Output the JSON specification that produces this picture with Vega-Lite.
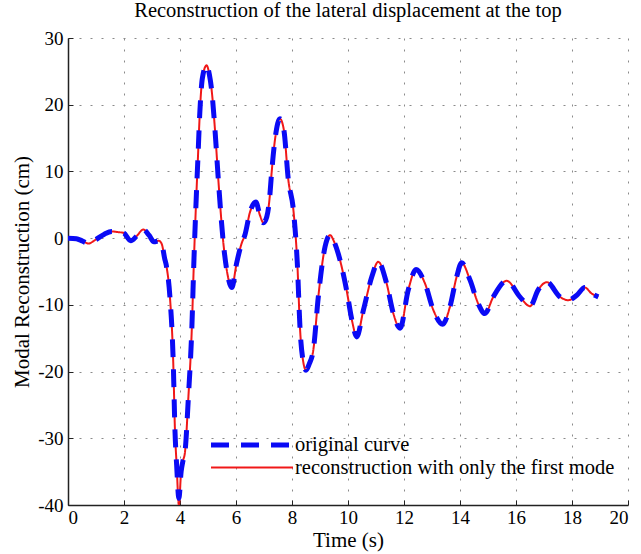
{
  "$schema": "https://vega.github.io/schema/vega-lite/v6.json",
  "width": 560,
  "height": 467,
  "autosize": {"type": "none"},
  "padding": {"left": 68, "top": 38, "right": 13, "bottom": 49},
  "background": "white",
  "config": {
    "view": {"stroke": null},
    "font": "Liberation Serif",
    "axis": {
      "domainColor": "#222222",
      "domainWidth": 1.5,
      "tickColor": "#222222",
      "tickSize": -5,
      "labelColor": "black",
      "titleColor": "black",
      "labelFont": "Liberation Serif",
      "titleFont": "Liberation Serif",
      "labelFontSize": 19,
      "titleFontSize": 21,
      "titleFontWeight": "normal",
      "grid": true,
      "gridColor": "#8a8a8a",
      "gridDash": [2, 9],
      "gridWidth": 1
    },
    "legend": {
      "labelFont": "Liberation Serif",
      "labelFontSize": 20.5,
      "labelColor": "black",
      "labelLimit": 0,
      "symbolType": "M-4,0H4",
      "symbolSize": 420,
      "labelOffset": 30,
      "rowPadding": 0
    }
  },
  "title": {
    "text": "Reconstruction of the lateral displacement at the top",
    "font": "Liberation Serif",
    "fontSize": 20.5,
    "fontWeight": "normal",
    "color": "black",
    "anchor": "middle",
    "offset": 8
  },
  "data": {
    "values": [
      {"t": 0, "orig": 0, "recon": 0}, {"t": 0.3, "orig": -0.1, "recon": -0.1}, {"t": 0.5, "orig": -0.4, "recon": -0.4}, {"t": 0.73, "orig": -0.8, "recon": -0.8},
      {"t": 1.0, "orig": -0.2, "recon": -0.2}, {"t": 1.3, "orig": 0.6, "recon": 0.6}, {"t": 1.56, "orig": 1.0, "recon": 1.0}, {"t": 1.8, "orig": 0.9, "recon": 0.9},
      {"t": 1.98, "orig": 0.8, "recon": 0.8}, {"t": 2.24, "orig": -0.4, "recon": -0.4}, {"t": 2.45, "orig": 0.3, "recon": 0.3}, {"t": 2.69, "orig": 1.3, "recon": 1.3},
      {"t": 2.9, "orig": 0.4, "recon": 0.4}, {"t": 3.07, "orig": -0.55, "recon": -0.55}, {"t": 3.25, "orig": -0.4, "recon": -0.4}, {"t": 3.35, "orig": -0.9, "recon": -0.9},
      {"t": 3.45, "orig": -3.0, "recon": -3.0}, {"t": 3.52, "orig": -4.3, "recon": -4.3}, {"t": 3.64, "orig": -8.8, "recon": -8.8}, {"t": 3.76, "orig": -18.8, "recon": -18.8},
      {"t": 3.82, "orig": -28.8, "recon": -28.8}, {"t": 3.88, "orig": -34, "recon": -34}, {"t": 3.96, "orig": -39, "recon": -40}, {"t": 4.04, "orig": -35, "recon": -35},
      {"t": 4.1, "orig": -33.5, "recon": -33.5}, {"t": 4.18, "orig": -32, "recon": -32}, {"t": 4.3, "orig": -23.8, "recon": -23.8}, {"t": 4.42, "orig": -13.8, "recon": -13.8},
      {"t": 4.5, "orig": -3, "recon": -3}, {"t": 4.57, "orig": 5, "recon": 5}, {"t": 4.64, "orig": 12, "recon": 12}, {"t": 4.71, "orig": 19, "recon": 19},
      {"t": 4.8, "orig": 24, "recon": 24}, {"t": 4.95, "orig": 25.9, "recon": 25.9}, {"t": 5.05, "orig": 24.5, "recon": 24.5}, {"t": 5.13, "orig": 22.2, "recon": 22.2},
      {"t": 5.25, "orig": 16.2, "recon": 16.2}, {"t": 5.37, "orig": 8.7, "recon": 8.7}, {"t": 5.55, "orig": -0.8, "recon": -0.8}, {"t": 5.7, "orig": -5.5, "recon": -5.5},
      {"t": 5.85, "orig": -7.4, "recon": -7.4}, {"t": 6.02, "orig": -3.8, "recon": -3.8}, {"t": 6.2, "orig": -0.8, "recon": -0.8}, {"t": 6.32, "orig": 0.5, "recon": 0.5},
      {"t": 6.5, "orig": 3.9, "recon": 3.9}, {"t": 6.71, "orig": 5.4, "recon": 5.4}, {"t": 6.85, "orig": 3.5, "recon": 3.5}, {"t": 6.98, "orig": 2.3, "recon": 2.3},
      {"t": 7.1, "orig": 3.2, "recon": 3.2}, {"t": 7.2, "orig": 6, "recon": 6}, {"t": 7.27, "orig": 9.7, "recon": 9.7}, {"t": 7.39, "orig": 14.7, "recon": 14.7},
      {"t": 7.57, "orig": 17.9, "recon": 17.9}, {"t": 7.71, "orig": 16.2, "recon": 16.2}, {"t": 7.87, "orig": 8.7, "recon": 8.7}, {"t": 8.05, "orig": 4.2, "recon": 4.2},
      {"t": 8.19, "orig": -3.8, "recon": -3.8}, {"t": 8.29, "orig": -13.8, "recon": -13.8}, {"t": 8.4, "orig": -18.5, "recon": -18.5}, {"t": 8.5, "orig": -19.8, "recon": -19.8},
      {"t": 8.62, "orig": -18.8, "recon": -18.8}, {"t": 8.76, "orig": -16.8, "recon": -16.8}, {"t": 8.94, "orig": -8.8, "recon": -8.8}, {"t": 9.18, "orig": -1.3, "recon": -1.3},
      {"t": 9.36, "orig": 0.45, "recon": 0.45}, {"t": 9.5, "orig": -0.5, "recon": -0.5}, {"t": 9.65, "orig": -2.3, "recon": -2.3}, {"t": 9.95, "orig": -7.8, "recon": -7.8},
      {"t": 10.15, "orig": -12.5, "recon": -12.5}, {"t": 10.31, "orig": -14.8, "recon": -14.8}, {"t": 10.55, "orig": -10.8, "recon": -10.8}, {"t": 10.85, "orig": -5.8, "recon": -5.8},
      {"t": 11.08, "orig": -3.55, "recon": -3.55}, {"t": 11.38, "orig": -6.8, "recon": -6.8}, {"t": 11.62, "orig": -11.3, "recon": -11.3}, {"t": 11.86, "orig": -13.5, "recon": -13.5},
      {"t": 12.15, "orig": -7.8, "recon": -7.8}, {"t": 12.43, "orig": -4.7, "recon": -4.7}, {"t": 12.75, "orig": -6.8, "recon": -6.8}, {"t": 13.05, "orig": -10.8, "recon": -10.8},
      {"t": 13.38, "orig": -12.9, "recon": -12.9}, {"t": 13.64, "orig": -10.3, "recon": -10.3}, {"t": 13.88, "orig": -5.8, "recon": -5.8}, {"t": 14.06, "orig": -3.7, "recon": -3.7},
      {"t": 14.36, "orig": -6.3, "recon": -6.3}, {"t": 14.65, "orig": -9.8, "recon": -9.8}, {"t": 14.89, "orig": -11.3, "recon": -11.3}, {"t": 15.19, "orig": -8.8, "recon": -8.8},
      {"t": 15.67, "orig": -6.4, "recon": -6.4}, {"t": 16.14, "orig": -8.8, "recon": -8.8}, {"t": 16.5, "orig": -10.2, "recon": -10.2}, {"t": 16.8, "orig": -7.7, "recon": -7.7},
      {"t": 17.1, "orig": -6.6, "recon": -6.6}, {"t": 17.57, "orig": -8.8, "recon": -8.8}, {"t": 17.87, "orig": -9.3, "recon": -9.3}, {"t": 18.17, "orig": -8.55, "recon": -8.55},
      {"t": 18.46, "orig": -7.4, "recon": -7.4}, {"t": 18.7, "orig": -8.3, "recon": -8.3}, {"t": 18.94, "orig": -8.8, "recon": -8.8}
    ]
  },
  "transform": [
    {"fold": ["orig", "recon"], "as": ["series", "v"]}
  ],
  "encoding": {
    "x": {"field": "t", "type": "quantitative", "scale": {"domain": [0, 20], "nice": false}, "axis": {"title": "Time (s)", "values": [0,2,4,6,8,10,12,14,16,18,20], "labelPadding": 8, "titlePadding": 2}},
    "y": {"field": "v", "type": "quantitative", "scale": {"domain": [-40, 30], "nice": false}, "axis": {"title": "Modal Reconstruction (cm)", "values": [-40,-30,-20,-10,0,10,20,30], "labelExpr": "replace(datum.label, '−', '-')", "labelPadding": 10, "titlePadding": 5}},
    "color": {"field": "series", "type": "nominal", "scale": {"domain": ["orig", "recon"], "range": ["#0a0af5", "#f01818"]},
      "legend": {"title": null, "orient": "none", "legendX": 171, "legendY": 394, "labelExpr": "datum.value == 'orig' ? 'original curve' : 'reconstruction with only the first mode'"}},
    "strokeDash": {"field": "series", "type": "nominal", "scale": {"domain": ["orig", "recon"], "range": [[18, 12], [1, 0]]},
      "legend": {"title": null, "orient": "none", "legendX": 171, "legendY": 394, "labelExpr": "datum.value == 'orig' ? 'original curve' : 'reconstruction with only the first mode'"}},
    "strokeWidth": {"field": "series", "type": "nominal", "scale": {"domain": ["orig", "recon"], "range": [5, 2]},
      "legend": {"title": null, "orient": "none", "legendX": 171, "legendY": 394, "labelExpr": "datum.value == 'orig' ? 'original curve' : 'reconstruction with only the first mode'"}}
  },
  "layer": [
    {
      "transform": [{"filter": "datum.series == 'recon'"}],
      "mark": {"type": "line", "interpolate": "monotone", "clip": true}
    },
    {
      "transform": [{"filter": "datum.series == 'orig'"}],
      "mark": {"type": "line", "interpolate": "monotone", "clip": true}
    }
  ]
}
